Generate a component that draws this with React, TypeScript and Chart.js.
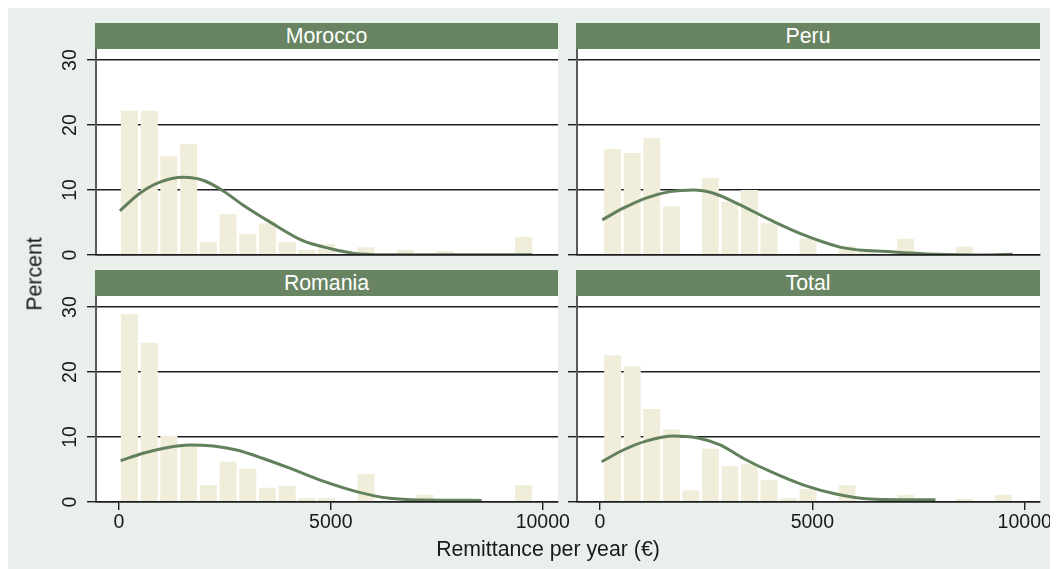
import React, { useEffect, useRef } from 'react';
import { Chart, registerables } from 'chart.js';

Chart.register(...registerables);

// ---- data ----
const leftBins = [250, 715, 1180, 1645, 2110, 2575, 3040, 3505, 3970, 4435, 4900, 5365, 5830, 6295, 6760, 7225, 7690, 8155, 8620, 9085, 9550];
const rightBins = [300, 760, 1220, 1680, 2140, 2600, 3060, 3520, 3980, 4440, 4900, 5360, 5820, 6280, 6740, 7200, 7660, 8120, 8580, 9040, 9500];

const moroccoPct = [22.2, 22.2, 15.2, 17.1, 2.0, 6.3, 3.2, 4.9, 2.0, 0.8, 1.7, 0, 1.2, 0, 0.8, 0, 0.6, 0, 0, 0, 2.8];
const peruPct = [16.3, 15.7, 18.0, 7.5, 0, 11.8, 8.2, 10.0, 4.9, 0, 2.5, 0, 1.4, 0.5, 0, 2.5, 0, 0, 1.3, 0, 0];
const romaniaPct = [28.9, 24.5, 10.2, 8.6, 2.6, 6.2, 5.1, 2.2, 2.5, 0.6, 0.6, 0, 4.3, 0, 0, 1.1, 0, 0, 0, 0, 2.6];
const totalPct = [22.6, 20.9, 14.3, 11.2, 1.8, 8.2, 5.5, 5.8, 3.4, 0.6, 2.0, 0, 2.6, 0, 0, 1.1, 0, 0, 0.5, 0, 1.1];

const moroccoCurveX = [24, 495, 967, 1510, 1981, 2453, 2925, 3561, 4340, 4976, 5684, 6500, 7500, 8500, 9757];
const moroccoCurveY = [6.8, 9.5, 11.2, 11.95, 11.5, 9.9, 7.7, 5.1, 2.2, 1.0, 0.15, 0.02, 0.02, 0.02, 0.05];
const peruCurveX = [55, 550, 1100, 1651, 2201, 2673, 3224, 4009, 4796, 5739, 6840, 7940, 9000, 9717];
const peruCurveY = [5.4, 7.2, 8.8, 9.75, 10.0, 9.5, 7.95, 5.4, 3.1, 1.1, 0.5, 0.1, 0.0, 0.1];
const romaniaCurveX = [40, 574, 1124, 1675, 2225, 2775, 3404, 4033, 4819, 5605, 6392, 7178, 8561];
const romaniaCurveY = [6.36, 7.5, 8.36, 8.77, 8.6, 8.0, 6.7, 5.2, 3.2, 1.6, 0.56, 0.3, 0.25];
const totalCurveX = [39, 550, 1100, 1730, 2280, 2830, 3380, 4009, 4796, 5582, 6368, 7153, 7900];
const totalCurveY = [6.2, 8.0, 9.4, 10.15, 9.9, 8.8, 6.7, 4.7, 2.6, 1.2, 0.46, 0.36, 0.35];

const yTicks = [0, 10, 20, 30];
const xTicks = [0, 5000, 10000];

const panelTitles = ['Morocco', 'Peru', 'Romania', 'Total'];
const yTitle = 'Percent';
const xTitle = 'Remittance per year (€)';

// ---- style ----
const FONT = '"Liberation Sans", Arial, Helvetica, sans-serif';
const BG = '#e9efeb';
const HEADER = '#688462';
const BAR = '#f0eedb';
const CURVE = '#62805c';
const GRID = '#1e1e1e';
const AXIS = '#5a5a5a';
const TEXT = '#1a1a1a';

const whiteArea = {
  id: 'whiteArea',
  beforeDraw(chart: any) {
    const { ctx, chartArea } = chart;
    if (!chartArea) return;
    ctx.save();
    ctx.fillStyle = '#ffffff';
    ctx.fillRect(chartArea.left, chartArea.top, chartArea.right - chartArea.left, chartArea.bottom - chartArea.top);
    ctx.restore();
  },
};

type PanelProps = {
  bins: number[];
  pct: number[];
  cx: number[];
  cy: number[];
  showX: boolean;
  showY: boolean;
  left: number;
  top: number;
  width: number;
  height: number;
  padBottom: number;
};

function Panel(p: PanelProps) {
  const ref = useRef<HTMLCanvasElement | null>(null);
  useEffect(() => {
    if (!ref.current) return;
    const chart = new Chart(ref.current, {
      type: 'bar',
      data: {
        datasets: [
          {
            type: 'line',
            data: p.cx.map((x, i) => ({ x, y: p.cy[i] })),
            borderColor: CURVE,
            borderWidth: 3,
            pointRadius: 0,
            fill: false,
            cubicInterpolationMode: 'monotone',
            order: 0,
          } as any,
          {
            type: 'bar',
            data: p.bins.map((x, i) => ({ x, y: p.pct[i] })),
            backgroundColor: BAR,
            borderWidth: 0,
            barPercentage: 0.87,
            categoryPercentage: 1,
            order: 1,
          } as any,
        ],
      },
      options: {
        responsive: false,
        animation: false,
        events: [],
        layout: { padding: { left: 0, top: 4, right: 14, bottom: p.padBottom }, autoPadding: false } as any,
        plugins: { legend: { display: false }, tooltip: { enabled: false }, title: { display: false } },
        scales: {
          x: {
            type: 'linear',
            min: -540,
            max: 10360,
            offset: false,
            afterBuildTicks: (s: any) => {
              s.ticks = xTicks.map((v) => ({ value: v }));
            },
            afterFit: (s: any) => {
              s.height = p.showX ? 34 : 0;
              s.paddingLeft = 0;
              s.paddingRight = 0;
            },
            grid: { display: p.showX, offset: false, drawOnChartArea: false, drawTicks: true, tickLength: 8, color: GRID, lineWidth: 1.4 },
            border: { display: true, color: GRID, width: 1.4, z: 1 } as any,
            ticks: {
              display: p.showX,
              padding: 1,
              maxRotation: 0,
              autoSkip: false,
              color: TEXT,
              font: { family: FONT, size: 19.5 },
              callback: (v: any) => String(v),
            },
          },
          y: {
            type: 'linear',
            min: 0,
            max: 31.7,
            afterBuildTicks: (s: any) => {
              s.ticks = yTicks.map((v) => ({ value: v }));
            },
            afterFit: (s: any) => {
              s.width = 56;
              s.paddingTop = 0;
              s.paddingBottom = 0;
            },
            grid: { color: GRID, lineWidth: 1.4, tickLength: 9, drawTicks: true },
            border: { display: true, color: AXIS, width: 2 },
            ticks: {
              display: p.showY,
              minRotation: 90,
              maxRotation: 90,
              crossAlign: 'center',
              padding: 6,
              color: TEXT,
              font: { family: FONT, size: 19.5 },
              callback: (v: any) => String(v),
            },
          },
        },
      },
      plugins: [whiteArea],
    } as any);
    return () => chart.destroy();
  }, []);
  return (
    <canvas
      ref={ref}
      width={p.width}
      height={p.height}
      style={{ position: 'absolute', left: p.left, top: p.top, width: p.width, height: p.height }}
    />
  );
}

function Header({ text, left, top, width }: { text: string; left: number; top: number; width: number }) {
  return (
    <div
      style={{
        position: 'absolute',
        left,
        top,
        width,
        height: 26,
        background: HEADER,
        color: '#ffffff',
        fontFamily: FONT,
        fontSize: 21.3,
        lineHeight: '26px',
        textAlign: 'center',
      }}
    >
      {text}
    </div>
  );
}

export default function App() {
  useEffect(() => {
    document.documentElement.style.overflow = 'hidden';
    document.body.style.overflow = 'hidden';
  }, []);
  return (
    <div style={{ position: 'relative', width: 1050, height: 561, background: BG, overflow: 'hidden' }}>
      <Panel bins={leftBins} pct={moroccoPct} cx={moroccoCurveX} cy={moroccoCurveY} showX={false} showY={true} left={32} top={37} width={532} height={217} padBottom={7} />
      <Panel bins={rightBins} pct={peruPct} cx={peruCurveX} cy={peruCurveY} showX={false} showY={false} left={513} top={37} width={533} height={217} padBottom={7} />
      <Panel bins={leftBins} pct={romaniaPct} cx={romaniaCurveX} cy={romaniaCurveY} showX={true} showY={true} left={32} top={284} width={532} height={250} padBottom={6} />
      <Panel bins={rightBins} pct={totalPct} cx={totalCurveX} cy={totalCurveY} showX={true} showY={false} left={513} top={284} width={533} height={250} padBottom={6} />
      <Header text={panelTitles[0]} left={87} top={15} width={463} />
      <Header text={panelTitles[1]} left={568} top={15} width={464} />
      <Header text={panelTitles[2]} left={87} top={262} width={463} />
      <Header text={panelTitles[3]} left={568} top={262} width={464} />
      <div
        style={{
          position: 'absolute',
          left: 27,
          top: 266,
          transform: 'translate(-50%, -50%) rotate(-90deg)',
          fontFamily: FONT,
          fontSize: 21.3,
          color: TEXT,
          whiteSpace: 'nowrap',
        }}
      >
        {yTitle}
      </div>
      <div
        style={{
          position: 'absolute',
          left: 540,
          top: 541,
          transform: 'translate(-50%, -50%)',
          fontFamily: FONT,
          fontSize: 21.3,
          color: TEXT,
          whiteSpace: 'nowrap',
        }}
      >
        {xTitle}
      </div>
    </div>
  );
}
